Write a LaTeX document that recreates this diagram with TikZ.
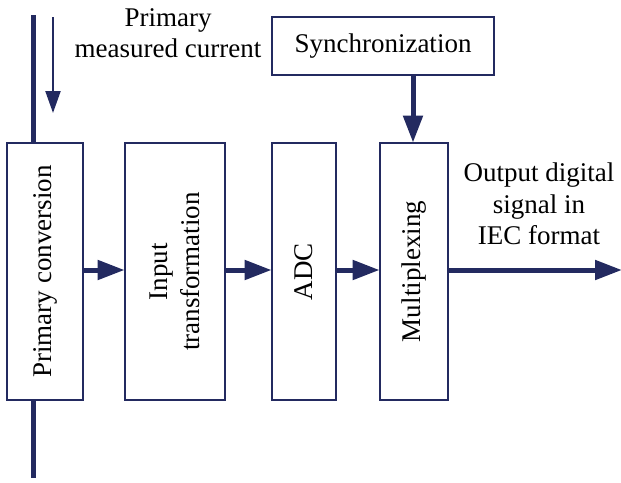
\documentclass[tikz,border=0pt]{standalone}
\usepackage{fontspec}
\setmainfont{Liberation Serif}
\usetikzlibrary{arrows.meta}
\definecolor{navy}{RGB}{35,42,96}
\begin{document}
\begin{tikzpicture}[x=1pt,y=-1pt,
  block/.style={draw=navy,line width=2.8pt,fill=white,inner sep=0pt},
  flow/.style={draw=navy,line width=5pt,-{Triangle[length=27pt,width=19pt]},shorten >=-1pt},
  lbl/.style={font=\fontsize{27}{31.5}\selectfont,align=center,text=black,inner sep=0pt},
  rot/.style={lbl,rotate=90}]
\useasboundingbox (0,0) rectangle (621,482);
% main processing chain
\node[block,minimum width=76pt,minimum height=257pt] (pc) at (45,271.5) {};
\node[block,minimum width=100pt,minimum height=257pt] (it) at (175,271.5) {};
\node[block,minimum width=64pt,minimum height=257pt] (adc) at (304,271.5) {};
\node[block,minimum width=68pt,minimum height=257pt] (mux) at (414,271.5) {};
\node[block,minimum width=222pt,minimum height=58pt] (sync) at (383,46) {};
% primary conductor passing through the first block
\coordinate (ctop) at (33,15);
\coordinate (cbot) at (33,478);
\draw[navy,line width=5pt] (ctop) -- (pc.north -| ctop);
\draw[navy,line width=5pt] (pc.south -| cbot) -- (cbot);
% block labels
\node[rot] at (pc) {Primary conversion};
\node[rot] at (it) {Input\\transformation};
\node[rot] at (adc) {ADC};
\node[rot] at (mux) {Multiplexing};
\node[lbl] at (sync) {Synchronization};
% current direction
\coordinate (ia) at (53,17);
\coordinate (ib) at (53,113);
\draw[navy,line width=2.2pt,-{Triangle[length=22pt,width=15pt]}] (ia) -- (ib);
\node[lbl] (cur) at (168,33) {Primary\\measured current};
% signal flow
\draw[flow] (pc.east |- 0,270) -- (it.west |- 0,270);
\draw[flow] (it.east |- 0,270) -- (adc.west |- 0,270);
\draw[flow] (adc.east |- 0,270) -- (mux.west |- 0,270);
\draw[flow] (sync.south -| 413,0) -- (mux.north -| 413,0);
\coordinate (out) at (621,270);
\draw[flow] (mux.east |- out) -- (out);
\node[lbl] (outl) at (539,204) {Output digital\\signal in\\IEC format};
\end{tikzpicture}
\end{document}
